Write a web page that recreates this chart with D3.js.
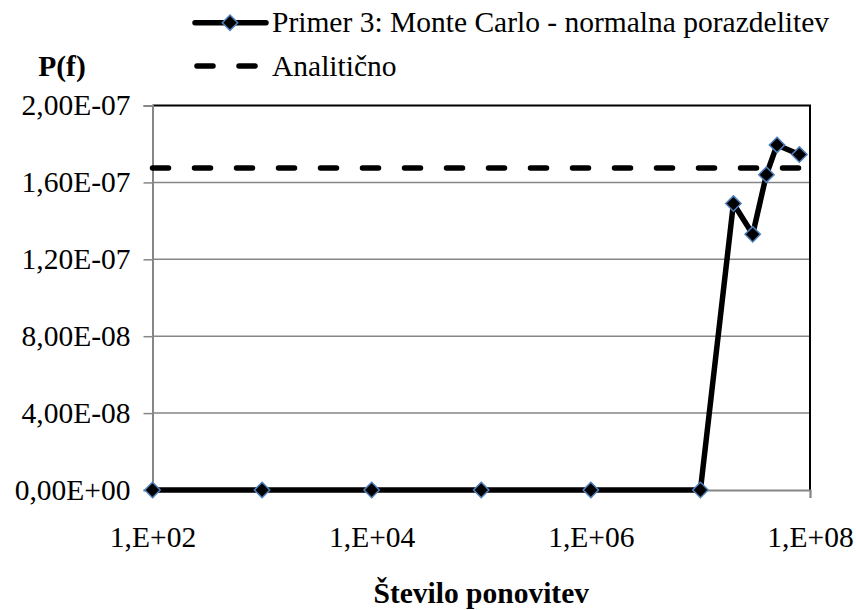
<!DOCTYPE html>
<html>
<head>
<meta charset="utf-8">
<script src="https://cdn.jsdelivr.net/npm/d3@7"></script>
<style>
  html, body { margin: 0; padding: 0; background: #fff; }
  svg text { font-family: "Liberation Serif", "Times New Roman", Times, "DejaVu Serif", serif; fill: #000; }
</style>
</head>
<body>
<svg id="chart" width="856" height="610"></svg>
<script>
// Number of repetitions (x) and estimated failure probability P(f)
const repetitions = [1e2, 1e3, 1e4, 1e5, 1e6, 1e7, 2e7, 3e7, 4e7, 5e7, 8e7];
const monteCarlo = [0, 0, 0, 0, 0, 0, 1.49e-7, 1.33e-7, 1.64e-7, 1.795e-7, 1.745e-7];
const analytical = [1.675e-7, 1.675e-7, 1.675e-7, 1.675e-7, 1.675e-7, 1.675e-7,
                    1.675e-7, 1.675e-7, 1.675e-7, 1.675e-7, 1.675e-7];
const xTickValues = [1e2, 1e4, 1e6, 1e8];
const xTickLabels = ["1,E+02", "1,E+04", "1,E+06", "1,E+08"];
const yTickValues = [0, 4e-8, 8e-8, 1.2e-7, 1.6e-7, 2e-7];
const yTickLabels = ["0,00E+00", "4,00E-08", "8,00E-08", "1,20E-07", "1,60E-07", "2,00E-07"];
const seriesNames = ["Primer 3: Monte Carlo - normalna porazdelitev", "Analitično"];

const svg = d3.select("#chart");
const plot = { left: 152.5, right: 810, top: 105.5, bottom: 490 };
const fontSize = 29.5;
const fontStack = "'Liberation Serif', 'Times New Roman', Times, 'DejaVu Serif', serif";
const gridColor = "#868686";
const markerStroke = "#4f81bd";

const x = d3.scaleLog().domain([1e2, 1e8]).range([plot.left, plot.right]);
const y = d3.scaleLinear().domain([0, 2e-7]).range([plot.bottom, plot.top]);

// horizontal gridlines
svg.append("g")
  .selectAll("line")
  .data(yTickValues.slice(1, -1))
  .join("line")
  .attr("x1", plot.left).attr("x2", plot.right)
  .attr("y1", d => y(d)).attr("y2", d => y(d))
  .attr("stroke", gridColor).attr("stroke-width", 1.5);

// plot area frame (top and right)
svg.append("path")
  .attr("d", `M${plot.left},${plot.top}H${plot.right}V${plot.bottom}`)
  .attr("fill", "none").attr("stroke", "#000").attr("stroke-width", 2);

// y axis
const yAxis = svg.append("g")
  .attr("transform", `translate(${plot.left},0)`)
  .call(d3.axisLeft(y).tickValues(yTickValues).tickSize(9).tickPadding(13)
    .tickFormat((d, i) => yTickLabels[i]));
yAxis.attr("font-family", fontStack).attr("font-size", fontSize);
yAxis.select(".domain").attr("stroke", gridColor).attr("stroke-width", 2);
yAxis.selectAll(".tick line").attr("stroke", gridColor).attr("stroke-width", 1.5);
yAxis.selectAll(".tick text").attr("fill", "#000");

// x axis
const xAxis = svg.append("g")
  .attr("transform", `translate(0,${plot.bottom})`)
  .call(d3.axisBottom(x).tickValues(xTickValues).tickSize(8).tickPadding(28)
    .tickFormat((d, i) => xTickLabels[i]));
xAxis.attr("font-family", fontStack).attr("font-size", fontSize);
xAxis.select(".domain").attr("stroke", gridColor).attr("stroke-width", 2);
xAxis.selectAll(".tick line").attr("stroke", gridColor).attr("stroke-width", 1.5);
xAxis.selectAll(".tick text").attr("fill", "#000");

// analytical reference line
const line = d3.line().x((d, i) => x(repetitions[i])).y(d => y(d));
svg.append("path")
  .attr("d", line(analytical))
  .attr("fill", "none").attr("stroke", "#000").attr("stroke-width", 5.5)
  .attr("stroke-linecap", "round").attr("stroke-dasharray", "16 26");

// Monte Carlo series
svg.append("path")
  .attr("d", line(monteCarlo))
  .attr("fill", "none").attr("stroke", "#000").attr("stroke-width", 5.5)
  .attr("stroke-linejoin", "round");

const diamond = d3.symbol().type(d3.symbolDiamond2).size(150);
svg.append("g")
  .selectAll("path")
  .data(monteCarlo)
  .join("path")
  .attr("d", diamond)
  .attr("transform", (d, i) => `translate(${x(repetitions[i])},${y(d)})`)
  .attr("fill", "#000").attr("stroke", markerStroke).attr("stroke-width", 1.5);

// legend
const legend = svg.append("g");
legend.append("line")
  .attr("x1", 195).attr("x2", 266).attr("y1", 22.7).attr("y2", 22.7)
  .attr("stroke", "#000").attr("stroke-width", 5.5).attr("stroke-linecap", "round");
legend.append("path")
  .attr("d", diamond)
  .attr("transform", "translate(230,22.7)")
  .attr("fill", "#000").attr("stroke", markerStroke).attr("stroke-width", 1.5);
legend.append("line")
  .attr("x1", 197).attr("x2", 258).attr("y1", 66).attr("y2", 66)
  .attr("stroke", "#000").attr("stroke-width", 5.5).attr("stroke-linecap", "round")
  .attr("stroke-dasharray", "16 26");
legend.selectAll("text")
  .data(seriesNames)
  .join("text")
  .attr("x", 272)
  .attr("y", (d, i) => [22.7, 66][i])
  .attr("dy", "0.33em")
  .attr("font-family", fontStack)
  .attr("font-size", fontSize)
  .text(d => d);

// axis titles
svg.append("text")
  .attr("x", 62).attr("y", 66).attr("dy", "0.33em")
  .attr("text-anchor", "middle").attr("font-weight", "bold")
  .attr("font-family", fontStack).attr("font-size", fontSize)
  .text("P(f)");
svg.append("text")
  .attr("x", (plot.left + plot.right) / 2).attr("y", 593).attr("dy", "0.33em")
  .attr("text-anchor", "middle").attr("font-weight", "bold")
  .attr("font-family", fontStack).attr("font-size", fontSize)
  .text("Število ponovitev");
</script>
</body>
</html>
